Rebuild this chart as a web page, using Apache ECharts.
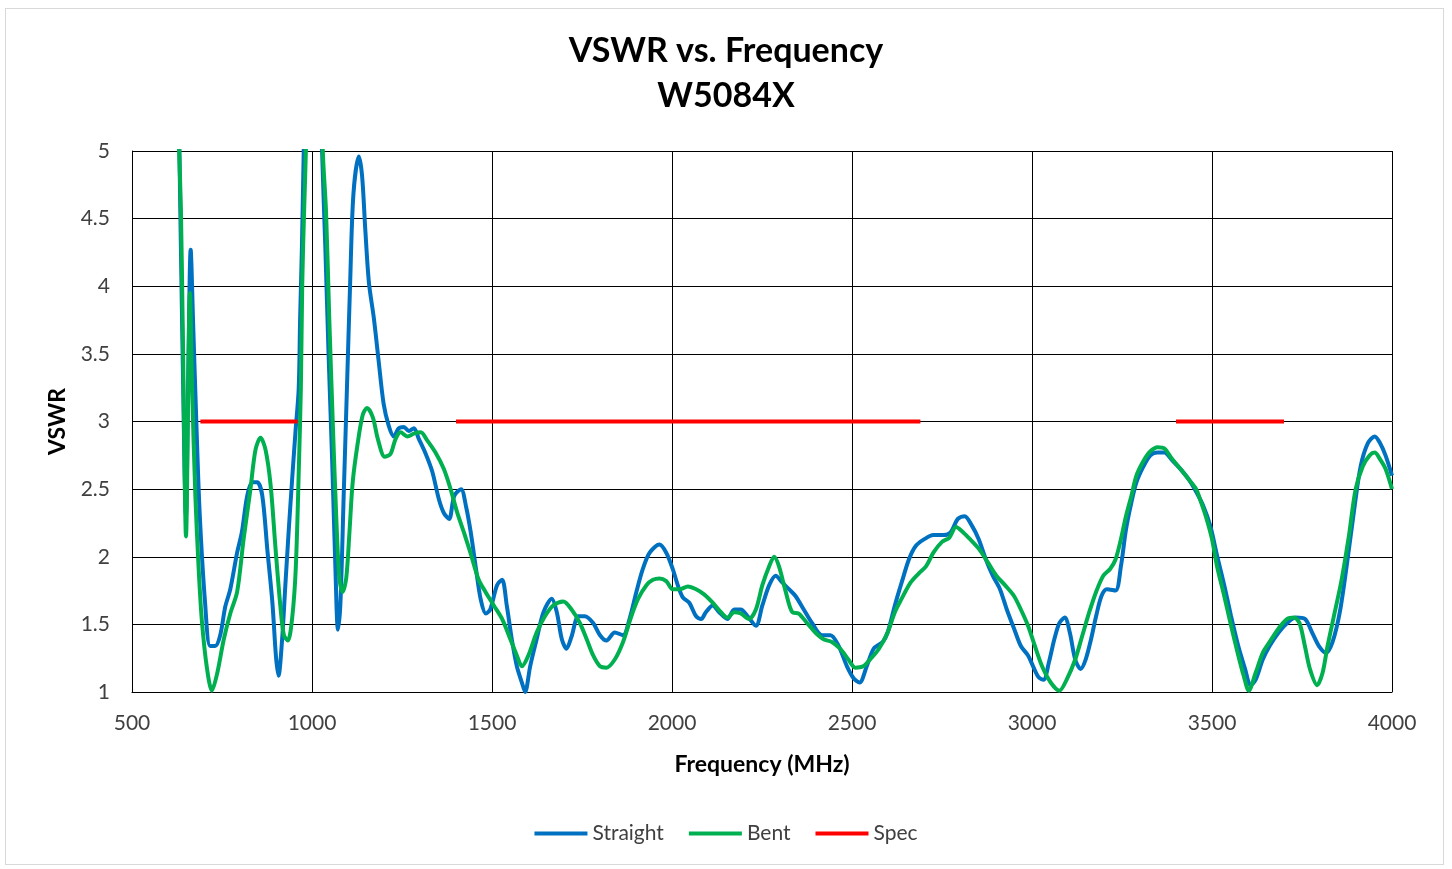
<!DOCTYPE html>
<html>
<head>
<meta charset="utf-8">
<title>VSWR vs. Frequency</title>
<script src="https://cdn.jsdelivr.net/npm/echarts@6/dist/echarts.min.js"></script>
<style>
  html, body { margin: 0; padding: 0; background: #fff; }
  #frame { position: absolute; left: 5px; top: 8px; width: 1439px; height: 857px; border: 1px solid #d9d9d9; box-sizing: border-box; }
  #chart { position: absolute; left: 0; top: 0; width: 1452px; height: 869px; }
</style>
</head>
<body>
<div id="frame"></div>
<div id="chart"></div>
<script>
// 频率 (MHz) / VSWR 数据
const straightFreq = [630, 640, 650, 656, 663, 670, 679, 688, 703, 717, 731, 745, 759, 773, 792, 805, 820, 834, 848, 862, 876, 890, 900, 907, 917, 926, 935, 945, 954, 963, 967, 972, 977, 985, 1000, 1020, 1028, 1037, 1046, 1056, 1065, 1072, 1079, 1088, 1097, 1106, 1115, 1130, 1139, 1148, 1158, 1172, 1185, 1199, 1213, 1227, 1241, 1255, 1269, 1283, 1297, 1316, 1334, 1353, 1367, 1381, 1395, 1414, 1428, 1441, 1455, 1469, 1483, 1495, 1514, 1528, 1541, 1555, 1569, 1583, 1592, 1606, 1624, 1643, 1666, 1680, 1694, 1707, 1721, 1740, 1758, 1781, 1800, 1818, 1841, 1864, 1882, 1901, 1919, 1938, 1965, 1984, 2002, 2016, 2030, 2048, 2067, 2081, 2094, 2113, 2131, 2154, 2173, 2191, 2210, 2233, 2251, 2270, 2288, 2306, 2325, 2343, 2366, 2389, 2417, 2440, 2463, 2486, 2505, 2521, 2541, 2560, 2585, 2599, 2619, 2638, 2658, 2677, 2701, 2726, 2755, 2774, 2794, 2813, 2833, 2852, 2872, 2891, 2911, 2930, 2950, 2969, 2989, 3003, 3018, 3032, 3047, 3062, 3076, 3091, 3105, 3120, 3135, 3149, 3164, 3178, 3193, 3208, 3232, 3247, 3261, 3276, 3290, 3310, 3329, 3349, 3368, 3387, 3412, 3436, 3456, 3475, 3495, 3514, 3534, 3553, 3573, 3592, 3607, 3621, 3641, 3660, 3685, 3709, 3733, 3758, 3778, 3797, 3817, 3835, 3855, 3874, 3894, 3913, 3933, 3952, 3967, 3982, 4000];
const straightVswr = [5.3, 3.6, 2.3, 3.3, 4.27, 3.71, 2.97, 2.32, 1.66, 1.34, 1.34, 1.42, 1.63, 1.76, 2.03, 2.18, 2.45, 2.55, 2.55, 2.45, 2.05, 1.66, 1.26, 1.12, 1.39, 1.79, 2.18, 2.58, 2.92, 3.24, 3.76, 4.29, 5.0, 6.0, 7.0, 6.0, 5.0, 4.29, 3.5, 2.71, 1.92, 1.46, 1.66, 2.45, 3.24, 4.03, 4.68, 4.96, 4.82, 4.42, 4.03, 3.76, 3.45, 3.13, 2.97, 2.89, 2.95, 2.96, 2.93, 2.95, 2.87, 2.76, 2.63, 2.42, 2.32, 2.28, 2.45, 2.5, 2.37, 2.18, 1.92, 1.68, 1.58, 1.61, 1.79, 1.83, 1.64, 1.39, 1.19, 1.07, 1.0, 1.19, 1.39, 1.59, 1.69, 1.59, 1.39, 1.32, 1.41, 1.56, 1.56, 1.51, 1.42, 1.38, 1.44, 1.42, 1.54, 1.74, 1.91, 2.03, 2.09, 2.03, 1.91, 1.79, 1.70, 1.66, 1.56, 1.54, 1.59, 1.64, 1.59, 1.54, 1.61, 1.61, 1.56, 1.49, 1.64, 1.79, 1.86, 1.81, 1.76, 1.71, 1.61, 1.51, 1.42, 1.42, 1.34, 1.19, 1.10, 1.07, 1.19, 1.32, 1.37, 1.44, 1.64, 1.81, 1.98, 2.08, 2.13, 2.16, 2.16, 2.18, 2.28, 2.30, 2.23, 2.13, 1.98, 1.86, 1.76, 1.61, 1.47, 1.34, 1.27, 1.19, 1.11, 1.09, 1.22, 1.39, 1.51, 1.55, 1.44, 1.24, 1.17, 1.24, 1.39, 1.56, 1.71, 1.76, 1.75, 1.93, 2.20, 2.40, 2.55, 2.67, 2.75, 2.77, 2.77, 2.72, 2.65, 2.57, 2.48, 2.38, 2.23, 2.01, 1.79, 1.56, 1.34, 1.17, 1.05, 1.09, 1.24, 1.34, 1.44, 1.51, 1.55, 1.54, 1.44, 1.34, 1.29, 1.37, 1.59, 1.93, 2.33, 2.67, 2.84, 2.89, 2.84, 2.75, 2.60];

const bentFreq = [628, 631, 636, 642, 650, 661, 667, 676, 685, 694, 708, 722, 736, 755, 773, 792, 810, 829, 843, 857, 871, 885, 899, 913, 922, 933, 945, 955, 964, 969, 973, 978, 983, 990, 1005, 1022, 1030, 1039, 1048, 1058, 1067, 1076, 1085, 1095, 1104, 1113, 1127, 1141, 1153, 1169, 1183, 1202, 1218, 1232, 1246, 1265, 1283, 1302, 1320, 1343, 1366, 1385, 1403, 1422, 1440, 1463, 1482, 1505, 1528, 1551, 1569, 1583, 1601, 1624, 1647, 1670, 1698, 1721, 1744, 1763, 1781, 1800, 1818, 1841, 1864, 1887, 1906, 1929, 1947, 1965, 1984, 2002, 2021, 2044, 2067, 2090, 2113, 2136, 2154, 2173, 2191, 2214, 2233, 2251, 2270, 2284, 2297, 2316, 2334, 2352, 2375, 2398, 2421, 2444, 2467, 2490, 2509, 2531, 2550, 2575, 2599, 2619, 2638, 2663, 2687, 2706, 2726, 2750, 2770, 2789, 2809, 2828, 2852, 2877, 2901, 2925, 2950, 2969, 2989, 3008, 3028, 3052, 3076, 3096, 3120, 3139, 3159, 3178, 3198, 3217, 3232, 3247, 3261, 3276, 3290, 3310, 3329, 3349, 3368, 3387, 3412, 3436, 3456, 3470, 3485, 3500, 3514, 3534, 3553, 3573, 3588, 3602, 3621, 3641, 3660, 3685, 3709, 3728, 3743, 3758, 3772, 3792, 3807, 3821, 3841, 3860, 3880, 3899, 3919, 3938, 3952, 3967, 3982, 4000];
const bentVswr = [5.3, 5.0, 4.55, 3.5, 2.15, 3.95, 3.24, 2.45, 1.92, 1.53, 1.18, 1.01, 1.13, 1.39, 1.58, 1.74, 2.13, 2.5, 2.79, 2.88, 2.79, 2.53, 2.05, 1.61, 1.42, 1.38, 1.55, 1.92, 2.71, 3.24, 4.03, 4.55, 5.0, 6.0, 7.0, 6.0, 5.0, 4.55, 3.76, 2.97, 2.32, 1.84, 1.74, 1.84, 2.18, 2.55, 2.84, 3.05, 3.10, 3.03, 2.87, 2.74, 2.76, 2.87, 2.92, 2.89, 2.91, 2.92, 2.86, 2.77, 2.65, 2.50, 2.33, 2.18, 2.03, 1.83, 1.74, 1.64, 1.54, 1.39, 1.27, 1.19, 1.27, 1.44, 1.56, 1.64, 1.67, 1.61, 1.51, 1.39, 1.27, 1.19, 1.18, 1.24, 1.37, 1.56, 1.69, 1.79, 1.83, 1.84, 1.82, 1.76, 1.76, 1.78, 1.76, 1.72, 1.66, 1.59, 1.55, 1.59, 1.58, 1.54, 1.61, 1.79, 1.93, 2.00, 1.93, 1.74, 1.59, 1.58, 1.51, 1.44, 1.39, 1.37, 1.32, 1.24, 1.18, 1.19, 1.24, 1.32, 1.44, 1.59, 1.69, 1.81, 1.88, 1.93, 2.03, 2.11, 2.14, 2.22, 2.18, 2.13, 2.06, 1.96, 1.86, 1.79, 1.71, 1.61, 1.49, 1.34, 1.19, 1.07, 1.01, 1.09, 1.24, 1.41, 1.59, 1.74, 1.86, 1.91, 1.98, 2.13, 2.30, 2.45, 2.60, 2.71, 2.78, 2.81, 2.80, 2.73, 2.65, 2.57, 2.50, 2.40, 2.28, 2.13, 1.93, 1.71, 1.49, 1.27, 1.12, 1.01, 1.14, 1.29, 1.37, 1.47, 1.54, 1.55, 1.51, 1.34, 1.17, 1.05, 1.14, 1.34, 1.59, 1.83, 2.15, 2.50, 2.67, 2.75, 2.77, 2.72, 2.65, 2.50];

// Spec 分段 (MHz)
const specStart = [690, 1400, 3400];
const specEnd = [960, 2690, 3700];
const specLevel = 3;

const xTicks = [500, 1000, 1500, 2000, 2500, 3000, 3500, 4000];
const yTicks = [1, 1.5, 2, 2.5, 3, 3.5, 4, 4.5, 5];

const FONT = 'Lato, "Open Sans", sans-serif';

function pairs(xs, ys) {
  return xs.map((x, i) => [x, ys[i]]);
}

let specData = [];
for (let i = 0; i < specStart.length; i++) {
  if (i > 0) specData.push([specStart[i], '-']);
  specData.push([specStart[i], specLevel]);
  specData.push([specEnd[i], specLevel]);
}

const chart = echarts.init(document.getElementById('chart'), null, { renderer: 'canvas' });

chart.setOption({
  backgroundColor: 'transparent',
  animation: false,
  title: {
    text: 'VSWR vs. Frequency\nW5084X',
    left: 'center',
    top: 24,
    textStyle: {
      fontFamily: FONT,
      fontWeight: 'bold',
      fontSize: 34,
      lineHeight: 45,
      color: '#000'
    }
  },
  grid: {
    left: 132,
    right: 60,
    top: 151,
    bottom: 177
  },
  legend: {
    bottom: 20,
    left: 'center',
    icon: 'rect',
    itemWidth: 53,
    itemHeight: 4,
    itemGap: 25,
    textStyle: { fontFamily: FONT, fontSize: 21, color: '#404040' },
    data: ['Straight', 'Bent', 'Spec']
  },
  xAxis: {
    type: 'value',
    min: xTicks[0],
    max: xTicks[xTicks.length - 1],
    interval: 500,
    name: 'Frequency (MHz)',
    nameLocation: 'middle',
    nameGap: 61,
    nameTextStyle: { fontFamily: FONT, fontWeight: 'bold', fontSize: 23, color: '#000' },
    axisLine: { show: true, lineStyle: { color: '#000', width: 1 } },
    axisTick: { show: false },
    axisLabel: { fontFamily: FONT, fontSize: 21, color: '#404040', margin: 21, formatter: v => String(v) },
    splitLine: { show: true, lineStyle: { color: '#000', width: 1 } }
  },
  yAxis: {
    type: 'value',
    min: yTicks[0],
    max: yTicks[yTicks.length - 1],
    interval: 0.5,
    name: 'VSWR',
    nameLocation: 'middle',
    nameGap: 63,
    nameRotate: 90,
    nameTextStyle: { fontFamily: FONT, fontWeight: 'bold', fontSize: 23, color: '#000' },
    axisLine: { show: true, lineStyle: { color: '#000', width: 1 } },
    axisTick: { show: false },
    axisLabel: { fontFamily: FONT, fontSize: 21, color: '#404040', margin: 22 },
    splitLine: { show: true, lineStyle: { color: '#000', width: 1 } }
  },
  series: [
    {
      name: 'Straight',
      type: 'line',
      data: pairs(straightFreq, straightVswr),
      showSymbol: false,
      smooth: 0.3,
      clip: true,
      itemStyle: { color: '#0070C0' },
      lineStyle: { color: '#0070C0', width: 4 }
    },
    {
      name: 'Bent',
      type: 'line',
      data: pairs(bentFreq, bentVswr),
      showSymbol: false,
      smooth: 0.3,
      clip: true,
      itemStyle: { color: '#00B050' },
      lineStyle: { color: '#00B050', width: 4 }
    },
    {
      name: 'Spec',
      type: 'line',
      data: specData,
      showSymbol: false,
      connectNulls: false,
      clip: true,
      itemStyle: { color: '#FF0000' },
      lineStyle: { color: '#FF0000', width: 4 }
    }
  ]
});
</script>
</body>
</html>
